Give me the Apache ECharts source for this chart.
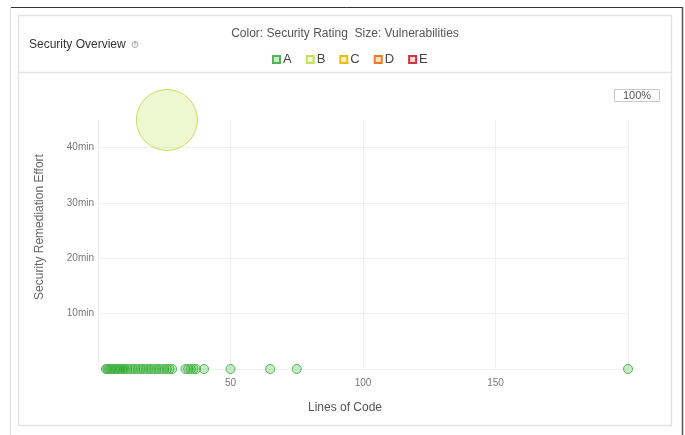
<!DOCTYPE html>
<html>
<head>
<meta charset="utf-8">
<script src="https://cdn.jsdelivr.net/npm/echarts@6/dist/echarts.min.js"></script>
<style>
  html, body { margin: 0; padding: 0; background: #fff; }
  #chart { width: 685px; height: 435px; }
</style>
</head>
<body>
<div id="chart"></div>
<script>
// ratings shown in the legend
const ratings = ["A", "B", "C", "D", "E"];
const ratingColors = ["#56b456", "#c4df5e", "#eabe06", "#ed7d20", "#d4333f"];
const ratingFills = ["rgba(0,170,0,0.22)", "rgba(176,213,19,0.2)", "rgba(234,190,6,0.2)", "rgba(237,125,32,0.2)", "rgba(212,51,63,0.2)"];

// [lines of code, remediation effort (min), vulnerabilities]
const pointsA = [
  [3, 0, 0], [3.5, 0, 0], [4, 0, 0], [4.5, 0, 0], [5, 0, 0], [5.5, 0, 0], [6, 0, 0],
  [6.5, 0, 0], [7, 0, 0], [7.5, 0, 0], [8, 0, 0], [8.5, 0, 0], [9, 0, 0], [9.5, 0, 0],
  [10, 0, 0], [11, 0, 0], [12, 0, 0], [13, 0, 0], [14, 0, 0], [15, 0, 0], [16, 0, 0],
  [17, 0, 0], [18, 0, 0], [19, 0, 0], [20, 0, 0], [21, 0, 0], [22, 0, 0], [23, 0, 0],
  [24, 0, 0], [25, 0, 0], [26, 0, 0], [27, 0, 0], [28, 0, 0],
  [33, 0, 0], [34, 0, 0], [35, 0, 0], [36, 0, 0], [37, 0, 0], [40, 0, 0],
  [50, 0, 0], [65, 0, 0], [75, 0, 0], [200, 0, 0]
];
const pointsB = [
  [26, 45, 1]
];
const pointsC = [];
const pointsD = [];
const pointsE = [];

const xTicks = [0, 50, 100, 150, 200];
const yTicks = [0, 10, 20, 30, 40];

const chart = echarts.init(document.getElementById("chart"));
const font = "'Liberation Sans', Arial, sans-serif";

const bubbleSize = (v) => (v > 0 ? 61 : 9);

const seriesData = [pointsA, pointsB, pointsC, pointsD, pointsE];

const option = {
  animation: false,
  textStyle: { fontFamily: font },
  legend: {
    data: ratings,
    left: 267,
    top: 48,
    icon: "rect",
    itemWidth: 7,
    itemHeight: 7,
    itemGap: 14,
    textStyle: { fontSize: 13, color: "#444", fontFamily: font, padding: [0, 0, 0, -2] },
    selectedMode: false
  },
  grid: { left: 98, right: 57, top: 120, bottom: 66 },
  xAxis: {
    type: "value",
    min: xTicks[0],
    max: xTicks[xTicks.length - 1],
    interval: 50,
    axisLine: { show: false },
    axisTick: { show: false },
    axisLabel: {
      color: "#777",
      fontSize: 10,
      margin: 9,
      showMinLabel: false,
      showMaxLabel: false
    },
    splitLine: { show: true, lineStyle: { color: "#f0f0f0" } }
  },
  yAxis: {
    type: "value",
    min: yTicks[0],
    max: 45,
    interval: 10,
    axisLine: { show: false },
    axisTick: { show: false },
    axisLabel: {
      color: "#777",
      fontSize: 10,
      margin: 4,
      showMinLabel: false,
      showMaxLabel: false,
      formatter: (v) => (v === 0 || v === 45 ? "" : v + "min")
    },
    splitLine: { show: true, showMaxLine: false, lineStyle: { color: "#f0f0f0" } }
  },
  series: ratings.map((r, i) => ({
    name: r,
    type: "scatter",
    clip: false,
    data: seriesData[i],
    symbolSize: (d) => bubbleSize(d[2]),
    itemStyle: {
      color: ratingFills[i],
      borderColor: ratingColors[i],
      borderWidth: 1,
      opacity: 1
    },
    emphasis: { disabled: true }
  })),
  graphic: [
    // outer frame
    { type: "line", shape: { x1: 10, y1: 7.5, x2: 683, y2: 7.5 }, style: { stroke: "#333", lineWidth: 1 } },
    { type: "line", shape: { x1: 682.5, y1: 7, x2: 682.5, y2: 435 }, style: { stroke: "#555", lineWidth: 1.5 } },
    { type: "line", shape: { x1: 10.5, y1: 7, x2: 10.5, y2: 435 }, style: { stroke: "#dddddd", lineWidth: 1 } },
    // card
    { type: "rect", shape: { x: 18.5, y: 15.5, width: 653, height: 410 }, style: { fill: "none", stroke: "#e4e4e4", lineWidth: 1.5 }, z: -1 },
    { type: "line", shape: { x1: 18, y1: 72.5, x2: 671, y2: 72.5 }, style: { stroke: "#e4e4e4", lineWidth: 1.5 } },
    // header texts
    { type: "text", left: 29, top: 39, style: { text: "Security Overview", fontSize: 12, fill: "#333", fontFamily: font } },
    { type: "circle", shape: { cx: 135, cy: 44.5, r: 3 }, style: { fill: "#fff", stroke: "#aaa", lineWidth: 1 } },
    { type: "text", x: 135, y: 44.8, style: { text: "?", fontSize: 5, fill: "#999", align: "center", verticalAlign: "middle", fontFamily: font, fontWeight: "bold" } },
    { type: "text", x: 345, y: 34, style: { text: "Color: Security Rating  Size: Vulnerabilities", fontSize: 12, fill: "#555", align: "center", verticalAlign: "middle", fontFamily: font } },
    // zoom badge
    { type: "rect", shape: { x: 614.5, y: 89.5, width: 45, height: 12 }, style: { fill: "#fff", stroke: "#c8c8c8", lineWidth: 1 } },
    { type: "text", x: 637, y: 96, style: { text: "100%", fontSize: 11, fill: "#555", align: "center", verticalAlign: "middle", fontFamily: font } },
    // axis names
    { type: "text", x: 40, y: 227, rotation: Math.PI / 2, style: { text: "Security Remediation Effort", fontSize: 12, fill: "#666", align: "center", verticalAlign: "middle", fontFamily: font } },
    { type: "text", x: 345, y: 408, style: { text: "Lines of Code", fontSize: 12, fill: "#555", align: "center", verticalAlign: "middle", fontFamily: font } }
  ]
};

chart.setOption(option);
</script>
</body>
</html>
